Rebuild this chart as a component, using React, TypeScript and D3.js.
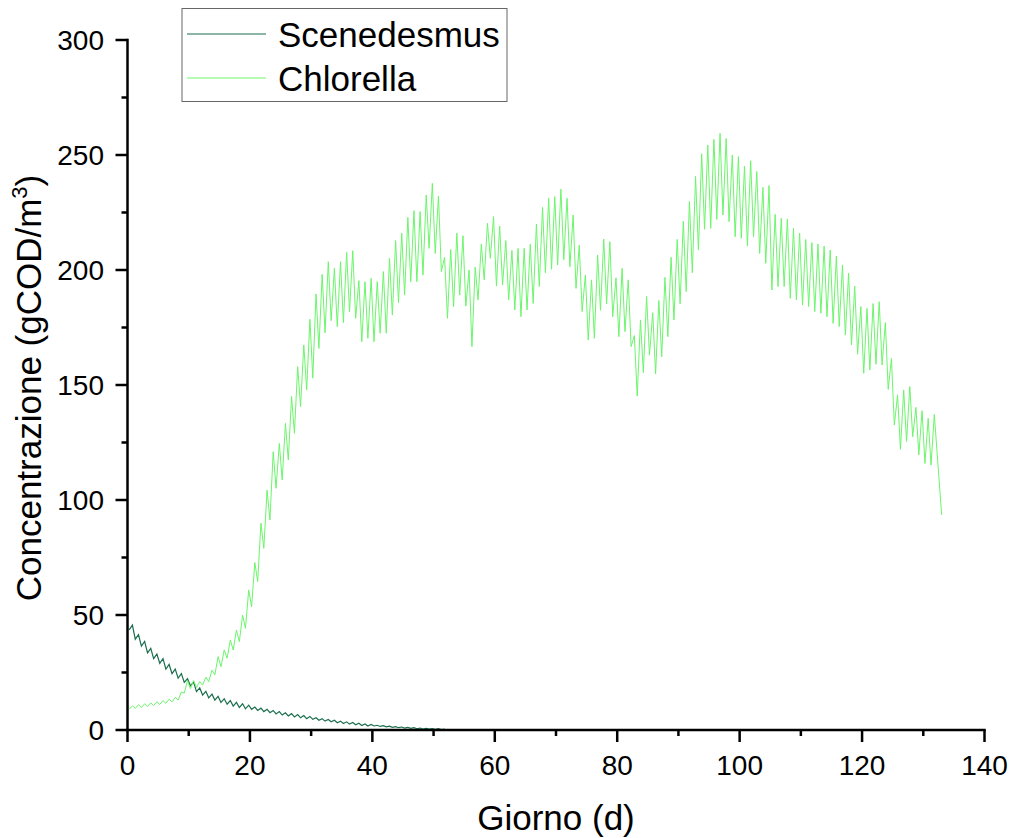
import React from "react";
import * as d3 from "d3";

// ---- data ----
// Daily oscillating series: one trough and one peak per day k
const chlorellaTrough = [
  9.0, 9.4, 9.8, 10.2, 10.6, 11.1, 11.6, 12.2, 13.0, 16.0,
  18.0, 18.5, 19.5, 21.0, 24.0, 27.5, 31.2, 34.8, 38.4, 44.2,
  53.6, 64.5, 79.0, 91.3, 105.1, 108.7, 117.4, 129.0, 140.6, 147.8,
  153.0, 165.9, 172.7, 178.0, 175.4, 177.1, 181.9, 179.0, 168.8, 170.3,
  168.8, 172.5, 172.5, 180.4, 185.8, 189.1, 194.9, 194.9, 197.8, 209.4,
  207.2, 199.3, 179.0, 184.1, 189.1, 184.3, 166.7, 187.0, 195.7, 205.1,
  193.0, 193.5, 187.0, 182.6, 179.7, 182.6, 185.5, 192.8, 198.8, 200.3,
  202.2, 204.5, 201.4, 192.0, 181.9, 169.6, 170.3, 182.5, 185.3, 179.7,
  171.0, 173.2, 166.7, 145.2, 155.4, 163.0, 154.8, 162.3, 171.0, 178.3,
  185.3, 190.6, 198.8, 208.7, 217.7, 218.1, 222.0, 223.9, 221.0, 214.5,
  213.8, 210.4, 214.5, 207.2, 202.9, 191.3, 192.8, 192.8, 187.7, 187.0,
  184.8, 184.1, 181.9, 181.2, 179.7, 176.8, 175.4, 171.7, 167.4, 163.4,
  155.1, 156.5, 159.0, 158.7, 148.1, 132.6, 122.0, 125.4, 127.5, 119.6,
  115.9, 115.2,
];
const chlorellaPeak = [
  10.5, 11.0, 11.4, 11.8, 12.3, 12.8, 13.4, 14.2, 16.5, 21.5,
  21.5, 21.0, 23.0, 26.0, 31.9, 34.8, 39.1, 43.5, 50.0, 60.9,
  72.8, 89.9, 104.3, 121.0, 124.6, 133.3, 145.0, 158.0, 167.4, 178.6,
  189.6, 198.1, 203.6, 200.7, 203.6, 207.7, 208.4, 195.4, 194.9, 196.4,
  194.9, 199.3, 205.1, 212.8, 216.0, 222.9, 225.8, 225.4, 232.6, 237.7,
  232.2, 205.5, 208.9, 216.0, 214.9, 200.0, 201.2, 211.3, 220.3, 223.2,
  219.1, 212.8, 208.5, 209.4, 209.4, 211.2, 220.0, 227.2, 231.2, 231.9,
  235.2, 231.2, 223.9, 210.8, 197.8, 195.7, 206.5, 213.5, 212.3, 196.6,
  200.7, 195.7, 171.5, 178.3, 188.5, 181.4, 186.7, 196.8, 205.5, 213.3,
  221.2, 229.8, 240.7, 250.5, 254.3, 256.8, 259.4, 257.2, 250.0, 249.3,
  245.2, 247.5, 242.8, 235.9, 236.7, 224.2, 222.5, 222.2, 218.1, 216.0,
  213.3, 211.9, 211.3, 210.4, 208.7, 206.1, 202.2, 198.6, 193.0, 184.1,
  183.3, 185.4, 186.2, 177.1, 161.6, 145.7, 147.8, 149.3, 140.3, 138.8,
  135.5, 137.2,
];
const chlorellaLast = { day: 133.0, value: 93.5 };

const scenedesmusTrough = [
  43.5, 39.5, 36.5, 33.5, 31.0, 29.0, 26.5, 24.5, 22.5, 20.7,
  19.2, 16.7, 15.2, 14.0, 13.0, 12.0, 11.2, 10.4, 9.8, 9.2,
  9.0, 8.5, 8.0, 7.5, 7.0, 6.5, 6.1, 5.7, 5.3, 4.9,
  4.65, 4.25, 3.85, 3.55, 3.15, 2.85, 2.55, 2.25, 1.95, 1.75,
  1.75, 1.55, 1.35, 1.15, 1.0, 0.85, 0.7, 0.55, 0.45, 0.35,
  0.25, 0.15,
];
const scenedesmusPeak = [
  45.6, 41.5, 38.5, 35.5, 33.0, 31.0, 28.5, 26.5, 24.5, 22.3,
  20.8, 18.3, 16.8, 15.6, 14.6, 13.6, 12.8, 12.0, 11.4, 10.8,
  10.0, 9.5, 9.0, 8.5, 8.0, 7.5, 7.1, 6.7, 6.3, 5.9,
  5.35, 4.95, 4.55, 4.25, 3.85, 3.55, 3.25, 2.95, 2.65, 2.45,
  2.05, 1.85, 1.65, 1.45, 1.3, 1.15, 1.0, 0.85, 0.75, 0.65,
  0.55, 0.45,
];

// time of day (fraction) at which trough / peak occur
const troughPhase = 0.27;
const peakPhase = 0.8;

const xTicks = [0, 20, 40, 60, 80, 100, 120, 140];
const yTicks = [0, 50, 100, 150, 200, 250, 300];
const seriesNames = ["Scenedesmus", "Chlorella"];
const seriesColors = ["#1B6E4E", "#6CF56C"];

const W = 1011;
const H = 838;
const FONT = "'Liberation Sans', Arial, sans-serif";

function buildPoints(tr: number[], pk: number[]): [number, number][] {
  const pts: [number, number][] = [];
  for (let k = 0; k < tr.length; k++) {
    pts.push([k + troughPhase, tr[k]]);
    pts.push([k + peakPhase, pk[k]]);
  }
  return pts;
}

export default function App() {
  const x = d3.scaleLinear().domain([0, 140]).range([127.5, 984.5]);
  const y = d3.scaleLinear().domain([0, 300]).range([730, 40]);

  const chl = buildPoints(chlorellaTrough, chlorellaPeak);
  chl.push([chlorellaLast.day, chlorellaLast.value]);
  const sce = buildPoints(scenedesmusTrough, scenedesmusPeak);

  const line = d3
    .line<[number, number]>()
    .x((d) => x(d[0]))
    .y((d) => y(d[1]));

  const xMinor = d3.range(10, 140, 20);
  const yMinor = d3.range(25, 300, 50);

  return (
    <svg
      width={W}
      height={H}
      style={{ position: "absolute", left: 0, top: 0, background: "#fff" }}
      fontFamily={FONT}
    >
      <rect x={0} y={0} width={W} height={H} fill="#fff" />
      {/* series */}
      <path d={line(sce) || ""} fill="none" stroke={seriesColors[0]} strokeWidth={1.2} />
      <path d={line(chl) || ""} fill="none" stroke={seriesColors[1]} strokeWidth={1} />

      {/* axes */}
      <g stroke="#000" strokeWidth={2.5} fill="none">
        <line x1={x(0)} x2={x(140)} y1={y(0)} y2={y(0)} strokeLinecap="square" />
        <line x1={x(0)} x2={x(0)} y1={y(0)} y2={y(300)} strokeLinecap="square" />
        {xTicks.map((t) => (
          <line key={"xt" + t} x1={x(t)} x2={x(t)} y1={y(0)} y2={y(0) + 12} />
        ))}
        {xMinor.map((t) => (
          <line key={"xm" + t} x1={x(t)} x2={x(t)} y1={y(0)} y2={y(0) + 6} />
        ))}
        {yTicks.map((t) => (
          <line key={"yt" + t} x1={x(0) - 12} x2={x(0)} y1={y(t)} y2={y(t)} />
        ))}
        {yMinor.map((t) => (
          <line key={"ym" + t} x1={x(0) - 6} x2={x(0)} y1={y(t)} y2={y(t)} />
        ))}
      </g>
      <g fontSize={28} fill="#000">
        {xTicks.map((t) => (
          <text key={"xl" + t} x={x(t)} y={775} textAnchor="middle">
            {t}
          </text>
        ))}
        {yTicks.map((t) => (
          <text key={"yl" + t} x={104} y={y(t) + 10} textAnchor="end">
            {t}
          </text>
        ))}
      </g>
      {/* axis titles */}
      <text x={x(70)} y={830} fontSize={35} textAnchor="middle" fill="#000">
        Giorno (d)
      </text>
      <text
        transform={`translate(41, ${388}) rotate(-90)`}
        fontSize={35}
        textAnchor="middle"
        fill="#000"
      >
        Concentrazione (gCOD/m
        <tspan fontSize={22} dy={-14}>3</tspan>
        <tspan dy={14}>)</tspan>
      </text>

      {/* legend */}
      <rect x={182} y={8.5} width={325} height={93} fill="#fff" stroke="#666" strokeWidth={1} />
      {seriesNames.map((n, i) => (
        <g key={n}>
          <line
            x1={187}
            x2={266}
            y1={34 + i * 44}
            y2={34 + i * 44}
            stroke={seriesColors[i]}
            strokeWidth={1.2}
          />
          <text x={278} y={34 + i * 44 + 12.5} fontSize={35} fill="#000">
            {n}
          </text>
        </g>
      ))}
    </svg>
  );
}
